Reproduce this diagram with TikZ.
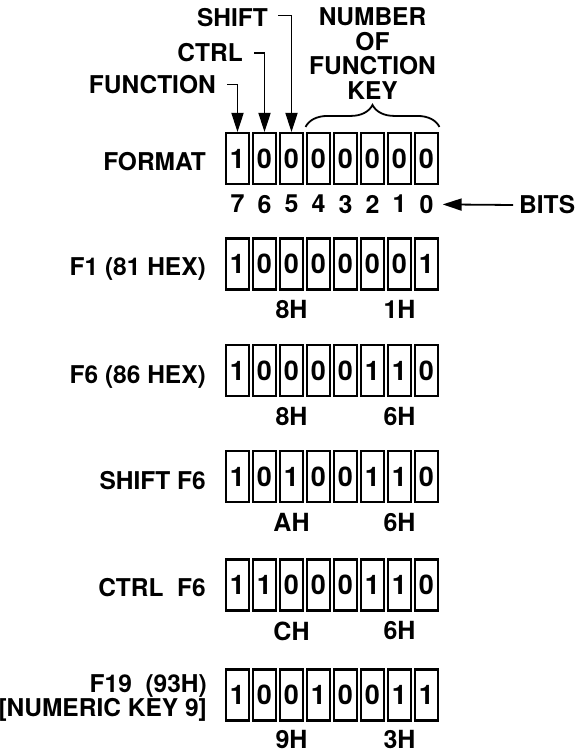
\documentclass[tikz,border=0pt]{standalone}
\usepackage{fontspec}
\setmainfont{TeX Gyre Heros}
\usepackage{tikz}
\usetikzlibrary{arrows.meta,positioning,decorations.pathreplacing}

\begin{document}
\begin{tikzpicture}[
  x=1bp,y=-1bp,
  font=\fontsize{24.5bp}{24.5bp}\selectfont\bfseries,
  cell/.style={draw,line width=2.1bp,minimum width=23.8bp,minimum height=51bp,
               inner sep=0pt,font=\fontsize{27bp}{27bp}\selectfont\bfseries},
  lbl/.style={inner sep=0pt},
  hx/.style={inner sep=0pt,font=\fontsize{25bp}{25bp}\selectfont\bfseries},
  a/.style={-{Triangle[length=19bp,width=12bp]},line width=1.8bp},
  brc/.style={decorate,decoration={brace,amplitude=22bp},line width=1.8bp}]

\useasboundingbox (0,0) rectangle (577,753);

% one register per row, cells named row-bit (bit 7 on the left)
\foreach \r/\yy/\bits in {fmt/158.5/{1,0,0,0,0,0,0,0}, f1/264/{1,0,0,0,0,0,0,1},
    f6/370.5/{1,0,0,0,0,1,1,0}, sf/476.5/{1,0,1,0,0,1,1,0},
    cf/585/{1,1,0,0,0,1,1,0}, f19/695/{1,0,0,1,0,0,1,1}}
  \foreach \b [count=\i from 0] in \bits {
    \pgfmathtruncatemacro\k{7-\i}
    \node[cell] (\r-\k) at (237.5+27*\i,\yy) {\b};
  }

\node[lbl,anchor=base east] (fmtl) at (206,170)   {FORMAT};
\node[lbl,anchor=base east] (f1l)  at (206,275.5) {F1 (81 HEX)};
\node[lbl,anchor=base east] (f6l)  at (206,383)   {F6 (86 HEX)};
\node[lbl,anchor=base east] (sfl)  at (206,489)   {SHIFT F6};
\node[lbl,anchor=base east] (cfl)  at (206,596.5) {CTRL\ \ F6};
\node[lbl,align=right,anchor=east] (f19l) at (207,698)
  {F19\ \ (93H)\\{[}NUMERIC KEY 9{]}};

\foreach \k in {7,...,0}
  \node[hx,below=10bp of fmt-\k] (b\k) {\k};
\foreach \r/\h/\l in {f1/8H/1H, f6/8H/6H, sf/AH/6H, cf/CH/6H} {
  \node[hx,below=10bp of \r-5] (\r-h) {\h};
  \node[hx,below=10bp of \r-1] (\r-l) {\l};
}
% last row sits close to the foot of the page
\node[hx,below=8.5bp of f19-5] (f19-h) {9H};
\node[hx,below=8.5bp of f19-1] (f19-l) {3H};

\node[lbl,anchor=base east] (fnc) at (216,93.5) {FUNCTION};
\node[lbl,anchor=base east] (ctl) at (243,62)   {CTRL};
\node[lbl,anchor=base east] (sht) at (268,26.5) {SHIFT};
\draw[a] (fnc.east) ++(11,0) -| (fmt-7.north);
\draw[a] (ctl.east) ++(11,0) -| (fmt-6.north);
\draw[a] (sht.east) ++(10,-2) -| (fmt-5.north);

\node[lbl,align=center] (nfk) at (372.5,53.5) {NUMBER\\OF\\FUNCTION\\KEY};
\draw[brc] ([yshift=5bp]fmt-4.north west) -- ([yshift=5bp]fmt-0.north east);

\node[lbl,anchor=west] (bits) at (519,205) {BITS};
\draw[a] (bits.west) ++(-6,0) -- ([xshift=9bp]b0.east);
\end{tikzpicture}
\end{document}
